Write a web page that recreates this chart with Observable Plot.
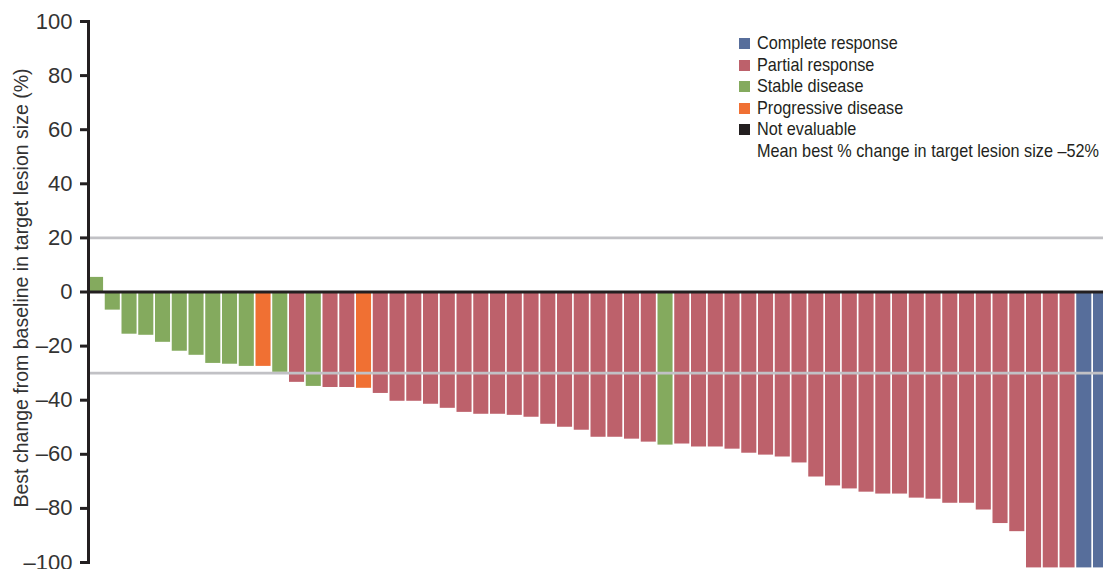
<!DOCTYPE html>
<html>
<head>
<meta charset="utf-8">
<script src="https://cdn.jsdelivr.net/npm/d3@7"></script>
<script src="https://cdn.jsdelivr.net/npm/@observablehq/plot@0.6"></script>
<style>
  html, body { margin: 0; padding: 0; background: #fff; }
  #wrap { position: relative; width: 1103px; height: 569px; overflow: hidden; }
  #legend { position: absolute; left: 739px; top: 33px; font-family: "Liberation Sans", Arial, sans-serif; font-size: 17.7px; color: #231f20; line-height: 21.5px; }
  #legend .row { display: flex; align-items: center; white-space: nowrap; height: 21.5px; }
  #legend .sw { width: 11px; height: 11px; margin-right: 7px; flex: none; }
  #legend .tx { display: inline-block; transform-origin: 0 50%; }
</style>
</head>
<body>
<div id="wrap"><div id="legend"></div></div>
<script>
const values = [5.4, -6.7, -15.6, -16.0, -18.6, -21.9, -23.4, -26.4, -26.7, -27.5,
  -27.5, -29.7, -33.4, -34.9, -35.3, -35.3, -35.6, -37.5, -40.4, -40.4,
  -41.5, -43.0, -44.5, -45.2, -45.2, -45.6, -46.3, -48.9, -50.0, -51.1,
  -53.7, -53.7, -54.4, -55.5, -56.6, -56.2, -57.3, -57.3, -58.1, -59.6,
  -60.3, -61.0, -63.2, -68.4, -71.7, -72.8, -74.0, -74.7, -74.7, -76.2,
  -76.6, -78.1, -78.1, -80.6, -85.6, -88.6, -102, -102, -102, -102, -102];
const responses = ["SD","SD","SD","SD","SD","SD","SD","SD","SD","SD",
  "PD","SD","PR","SD","PR","PR","PD","PR","PR","PR",
  "PR","PR","PR","PR","PR","PR","PR","PR","PR","PR",
  "PR","PR","PR","PR","SD","PR","PR","PR","PR","PR",
  "PR","PR","PR","PR","PR","PR","PR","PR","PR","PR",
  "PR","PR","PR","PR","PR","PR","PR","PR","PR","CR","CR"];
const categoryCodes = ["CR", "PR", "SD", "PD", "NE"];
const categoryLabels = ["Complete response", "Partial response", "Stable disease", "Progressive disease", "Not evaluable"];
const categoryColors = ["#576e9b", "#bd616b", "#84aa5e", "#f07033", "#231f20"];
const yTicks = [100, 80, 60, 40, 20, 0, -20, -40, -60, -80, -100];
const referenceLines = [20, -30];
const meanNote = "Mean best % change in target lesion size \u201352%";
const yLabel = "Best change from baseline in target lesion size (%)";

const data = values.map((v, i) => ({id: i + 1, value: v, response: responses[i]}));

const fontFamily = '"Liberation Sans", Arial, sans-serif';
const step = 16.75;
const n = data.length;

const chart = Plot.plot({
  width: 1103,
  height: 569,
  marginLeft: 88,
  marginRight: 0,
  marginTop: 21,
  marginBottom: 7,
  style: {fontFamily, fontSize: "22px", color: "#333", background: "#fff", overflow: "hidden"},
  x: {type: "band", domain: data.map(d => d.id), range: [88, 88 + step * (n - 0.1)], paddingInner: 0.1, paddingOuter: 0, axis: null},
  y: {domain: [-100, 100], axis: null},
  color: {domain: categoryCodes, range: categoryColors},
  marks: [
    Plot.barY(data, {x: "id", y1: 0, y2: "value", fill: "response"}),
    Plot.ruleY(referenceLines, {stroke: "#c1c1c5", strokeWidth: 2.6}),
    Plot.ruleY([0], {stroke: "#231f20", strokeWidth: 2.8}),
    Plot.axisY({ticks: yTicks, tickSize: 8, tickPadding: 8, tickFormat: d => d < 0 ? "\u2013" + Math.abs(d) : String(d), stroke: "#231f20", strokeWidth: 3, fill: "#333", fontSize: 22, label: null, ariaLabel: "yticks"}),
    Plot.frame({anchor: "left", stroke: "#231f20", strokeWidth: 3}),
    Plot.text([yLabel], {frameAnchor: "left", rotate: -90, dx: -67, dy: -4, textAnchor: "middle", fontSize: 19.5, fill: "#333", text: d => d, ariaLabel: "ylabel"})
  ]
});

const wrap = document.getElementById("wrap");
wrap.insertBefore(chart, wrap.firstChild);

// condense text to mimic the narrow typeface of the reference
chart.querySelectorAll('g[aria-label="yticks"] text, g[aria-label="y-axis tick label"] text').forEach(t => {
  const tr = t.getAttribute("transform") || "";
  t.setAttribute("transform", tr + " scale(0.79,1)");
});
chart.querySelectorAll('g[aria-label="ylabel"] text').forEach(t => {
  const len = t.getComputedTextLength();
  const s = 471 / len;
  const tr = t.getAttribute("transform") || "";
  t.setAttribute("transform", tr + ` scale(${s},1)`);
});

const legend = document.getElementById("legend");
const ctx = document.createElement("canvas").getContext("2d");
ctx.font = '17.7px "Liberation Sans", Arial, sans-serif';
const legendScale = 342 / ctx.measureText(meanNote).width;
categoryCodes.forEach((c, i) => {
  const row = document.createElement("div");
  row.className = "row";
  const sw = document.createElement("span");
  sw.className = "sw";
  sw.style.background = categoryColors[i];
  const t = document.createElement("span");
  t.className = "tx";
  t.style.transform = `scaleX(${legendScale})`;
  t.textContent = categoryLabels[i];
  row.appendChild(sw); row.appendChild(t);
  legend.appendChild(row);
});
const note = document.createElement("div");
note.className = "row";
const nt = document.createElement("span");
nt.className = "tx";
nt.style.marginLeft = "18px";
nt.style.transform = `scaleX(${legendScale})`;
nt.textContent = meanNote;
note.appendChild(nt);
legend.appendChild(note);
</script>
</body>
</html>
